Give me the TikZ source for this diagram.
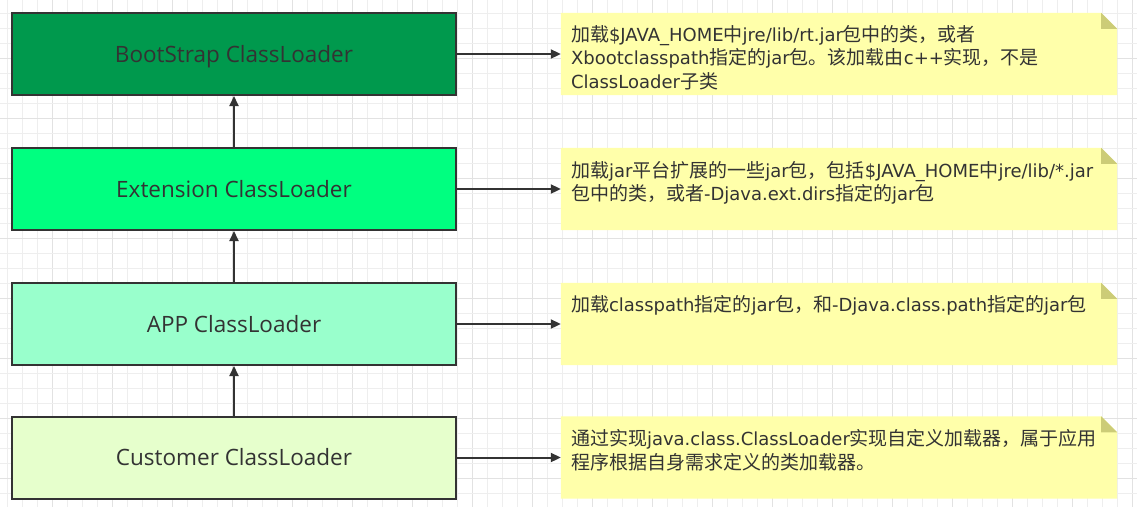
\documentclass[tikz,border=0pt]{standalone}
\usepackage{fontspec}
\setmainfont{Open Sans}
\newfontfamily\notelatin{DejaVu Sans}
\newfontfamily\cjk{Noto Sans CJK SC}
\newcommand{\zh}[1]{{\cjk\fontsize{19}{23}\selectfont #1}}
\usetikzlibrary{arrows.meta,calc}
\definecolor{ink}{HTML}{333333}
\definecolor{gminor}{HTML}{EEEEEE}
\definecolor{gmajor}{HTML}{E2E2E2}
\definecolor{cboot}{HTML}{00994D}
\definecolor{cext}{HTML}{00FF80}
\definecolor{capp}{HTML}{99FFCC}
\definecolor{ccust}{HTML}{E6FFCC}
\definecolor{notefill}{HTML}{FFFFAA}
\definecolor{foldfill}{HTML}{CCCC77}
\tikzset{
  loader/.style={draw=ink, line width=2pt, minimum width=444pt, minimum height=82pt,
    inner sep=0pt, text=ink, font=\fontsize{22.5}{26}\selectfont,
    text height=16pt, text depth=0pt},
  notebox/.style={minimum width=556pt, minimum height=82pt, inner sep=0pt},
  notetext/.style={anchor=north west, inner sep=0pt, align=left, text=ink,
    font=\notelatin\fontsize{18}{23.5}\selectfont},
  link/.style={draw=ink, line width=2pt, -{Triangle[length=10pt,width=9pt]}},
}
\newcommand{\nfold}[1]{%
  \fill[notefill] (#1.north west) -- ([xshift=-16pt]#1.north east) -- ([yshift=-16pt]#1.north east) -- (#1.south east) -- (#1.south west) -- cycle;
  \fill[foldfill] ([xshift=-16pt]#1.north east) -- ([yshift=-16pt]#1.north east) -- ([xshift=-16pt,yshift=-16pt]#1.north east) -- cycle;}
\begin{document}
\begin{tikzpicture}[x=1pt,y=-1pt]
\useasboundingbox (0,0) rectangle (1137,507);
\fill[white] (0,0) rectangle (1137,507);
% grid
\foreach \k in {0,...,75} {
  \pgfmathsetmacro\gx{7.3+15*\k}
  \pgfmathtruncatemacro\m{mod(\k,4)}
  \ifnum\m=3 \draw[gmajor, line width=1pt] (\gx,0) -- (\gx,507);
  \else \draw[gminor, line width=1pt] (\gx,0) -- (\gx,507); \fi
}
\foreach \k in {0,...,34} {
  \pgfmathsetmacro\gy{-2+15*\k}
  \pgfmathtruncatemacro\m{mod(\k,4)}
  \ifnum\m=0 \draw[gmajor, line width=1pt] (0,\gy) -- (1137,\gy);
  \else \draw[gminor, line width=1pt] (0,\gy) -- (1137,\gy); \fi
}
% loaders
\node[loader, fill=cboot] (boot) at (234,54) {BootStrap ClassLoader};
\node[loader, fill=cext] (ext) at (234,189) {Extension ClassLoader};
\node[loader, fill=capp] (app) at (234,324) {APP ClassLoader};
\node[loader, fill=ccust] (cust) at (234,457.5) {Customer ClassLoader};
% notes
\node[notebox] (n1) at (839,54) {};
\node[notebox] (n2) at (839,189) {};
\node[notebox] (n3) at (839,324) {};
\node[notebox] (n4) at (839,457.5) {};
\nfold{n1}\nfold{n2}\nfold{n3}\nfold{n4}
\node[notetext] (t1) at ([xshift=10pt,yshift=-11pt]n1.north west)
  {\rule{0pt}{17pt}\zh{加载}\$JAVA\_HOME\zh{中}jre/lib/rt.jar\zh{包中的类，或者}\\
   Xbootclasspath\zh{指定的}jar\zh{包。该加载由}c++\zh{实现，不是}\\
   ClassLoader\zh{子类}};
\node[notetext] (t2) at ([xshift=10pt,yshift=-12pt]n2.north west)
  {\rule{0pt}{17pt}\zh{加载}jar\zh{平台扩展的一些}jar\zh{包，包括}\$JAVA\_HOME\zh{中}jre/lib/*.jar\\
   \zh{包中的类，或者}-Djava.ext.dirs\zh{指定的}jar\zh{包}};
\node[notetext] (t3) at ([xshift=10pt,yshift=-11pt]n3.north west)
  {\rule{0pt}{17pt}\zh{加载}classpath\zh{指定的}jar\zh{包，和}-Djava.class.path\zh{指定的}jar\zh{包}};
\node[notetext] (t4) at ([xshift=10pt,yshift=-12pt]n4.north west)
  {\rule{0pt}{17pt}\zh{通过实现}java.class.ClassLoader\zh{实现自定义加载器，属于应用}\\
   \zh{程序根据自身需求定义的类加载器。}};
% connectors
\draw[link] (ext.north) -- (boot.south);
\draw[link] (app.north) -- (ext.south);
\draw[link] (cust.north) -- (app.south);
\draw[link] (boot.east) -- (n1.west);
\draw[link] (ext.east) -- (n2.west);
\draw[link] (app.east) -- (n3.west);
\draw[link] (cust.east) -- (n4.west);
\end{tikzpicture}
\end{document}
